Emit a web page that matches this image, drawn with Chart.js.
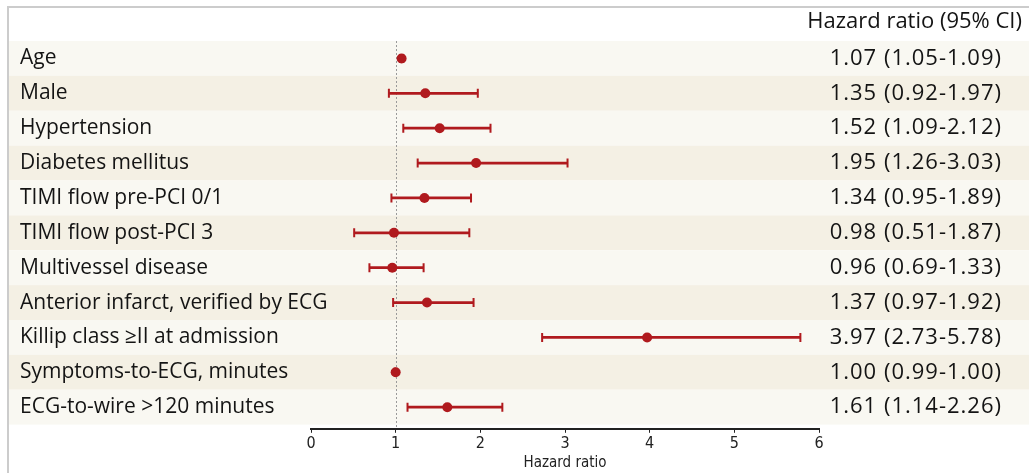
<!DOCTYPE html>
<html>
<head>
<meta charset="utf-8">
<script src="https://cdn.jsdelivr.net/npm/chart.js@4/dist/chart.umd.min.js"></script>
<style>
  html, body { margin: 0; padding: 0; background: #fff; }
  #wrap { width: 1029px; height: 473px; }
</style>
</head>
<body>
<div id="wrap"><canvas id="forest"></canvas></div>
<script>
// 変数名と値
const categories = [
    "Age",
    "Male",
    "Hypertension",
    "Diabetes mellitus",
    "TIMI flow pre-PCI 0/1",
    "TIMI flow post-PCI 3",
    "Multivessel disease",
    "Anterior infarct, verified by ECG",
    "Killip class \u2265II at admission",
    "Symptoms-to-ECG, minutes",
    "ECG-to-wire >120 minutes"
];
const hazardRatio = [1.07, 1.35, 1.52, 1.95, 1.34, 0.98, 0.96, 1.37, 3.97, 1.00, 1.61];
const ciLower     = [1.05, 0.92, 1.09, 1.26, 0.95, 0.51, 0.69, 0.97, 2.73, 0.99, 1.14];
const ciUpper     = [1.09, 1.97, 2.12, 3.03, 1.89, 1.87, 1.33, 1.92, 5.78, 1.00, 2.26];
const xTicks = [0, 1, 2, 3, 4, 5, 6];

const RED = "#b01a1e";
const mainFont = "'Open Sans', 'Liberation Sans', sans-serif";
const axisFont = "'Liberation Sans Narrow', 'DejaVu Sans Condensed', 'Liberation Sans', sans-serif";

// 区間表記の文字列
function ciText(i) {
    return hazardRatio[i].toFixed(2) + " (" + ciLower[i].toFixed(2) + "-" + ciUpper[i].toFixed(2) + ")";
}

// 背景の帯、枠線、文字の列
const tablePlugin = {
    id: "tablePlugin",
    beforeDraw(chart) {
        const ctx = chart.ctx;
        const y = chart.scales.y;
        const w = chart.width;
        ctx.save();
        ctx.fillStyle = "#ffffff";
        ctx.fillRect(0, 0, w, chart.height);
        categories.forEach(function (c, i) {
            const top = y.getPixelForValue(i - 0.5);
            const bottom = y.getPixelForValue(i + 0.5);
            ctx.fillStyle = (i % 2 === 0) ? "#f9f8f2" : "#f4f0e4";
            ctx.fillRect(9, top, w - 9, bottom - top);
        });
        // 枠線
        ctx.strokeStyle = "#cccccc";
        ctx.lineWidth = 2;
        ctx.beginPath();
        ctx.moveTo(8, chart.height);
        ctx.lineTo(8, 7);
        ctx.lineTo(w, 7);
        ctx.stroke();
        ctx.restore();
    },
    beforeDatasetsDraw(chart) {
        const ctx = chart.ctx;
        const x = chart.scales.x;
        const y = chart.scales.y;
        // 基準線 HR = 1
        ctx.save();
        ctx.strokeStyle = "#9a9a9a";
        ctx.lineWidth = 1;
        ctx.setLineDash([2, 2]);
        ctx.beginPath();
        const px = Math.round(x.getPixelForValue(1)) + 0.5;
        ctx.moveTo(px, y.getPixelForValue(-0.5));
        ctx.lineTo(px, chart.chartArea.bottom);
        ctx.stroke();
        ctx.restore();
    },
    afterDraw(chart) {
        const ctx = chart.ctx;
        const y = chart.scales.y;
        ctx.save();
        ctx.fillStyle = "#141414";
        ctx.textBaseline = "middle";
        ctx.textAlign = "right";
        ctx.font = "22px " + mainFont;
        ctx.fillText("Hazard ratio (95% CI)", 1022, 22);
        categories.forEach(function (c, i) {
            const py = y.getPixelForValue(i);
            ctx.textAlign = "left";
            ctx.font = "21px " + mainFont;
            ctx.letterSpacing = "0px";
            ctx.fillText(c, 20, py);
            ctx.textAlign = "right";
            ctx.font = "22px " + mainFont;
            ctx.letterSpacing = "1px";
            ctx.fillText(ciText(i), 1002, py);
        });
        ctx.restore();
    }
};

const rows = categories.map(function (c, i) { return i; });

new Chart(document.getElementById("forest"), {
    type: "bar",
    data: {
        datasets: [
            {
                // 点推定
                type: "scatter",
                data: rows.map(function (i) { return { x: hazardRatio[i], y: i }; }),
                backgroundColor: RED,
                borderWidth: 0,
                pointRadius: 5,
                order: 0
            },
            {
                // 信頼区間の端
                type: "scatter",
                data: rows.map(function (i) { return { x: ciLower[i], y: i }; })
                    .concat(rows.map(function (i) { return { x: ciUpper[i], y: i }; })),
                pointStyle: "line",
                rotation: 90,
                pointRadius: 4.5,
                borderColor: RED,
                borderWidth: 2,
                order: 1
            },
            {
                // 信頼区間
                type: "bar",
                indexAxis: "y",
                data: rows.map(function (i) { return { x: [ciLower[i], ciUpper[i]], y: i }; }),
                backgroundColor: RED,
                barThickness: 2,
                borderWidth: 0,
                order: 2
            }
        ]
    },
    options: {
        responsive: true,
        maintainAspectRatio: false,
        animation: false,
        layout: { padding: { left: 311, right: 210, top: 41, bottom: 1 } },
        plugins: {
            legend: { display: false },
            tooltip: { enabled: false }
        },
        scales: {
            x: {
                type: "linear",
                offset: false,
                min: 0,
                max: 6,
                afterBuildTicks: function (scale) {
                    scale.ticks = xTicks.map(function (v) { return { value: v }; });
                },
                grid: {
                    offset: false,
                    drawOnChartArea: false,
                    drawTicks: true,
                    tickLength: 4,
                    color: "#222222",
                    lineWidth: 1
                },
                border: { display: true, color: "#222222", width: 2 },
                ticks: {
                    color: "#222222",
                    font: { family: axisFont, size: 16 },
                    padding: 1
                },
                title: {
                    display: true,
                    text: "Hazard ratio",
                    color: "#222222",
                    font: { family: axisFont, size: 15 },
                    padding: { top: 0, bottom: 0 }
                }
            },
            y: {
                type: "linear",
                display: false,
                offset: false,
                reverse: true,
                min: -0.5,
                max: 10.62
            }
        }
    },
    plugins: [tablePlugin]
});
</script>
</body>
</html>
